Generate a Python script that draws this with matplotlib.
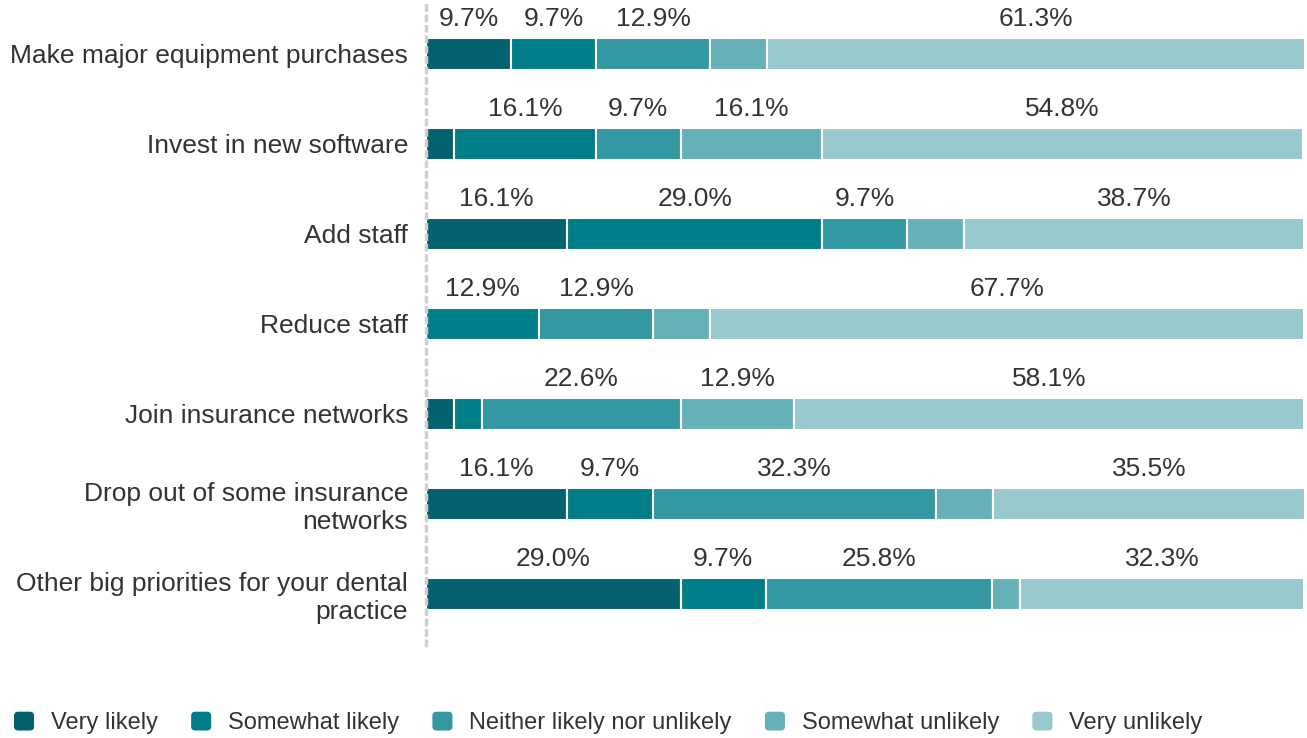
import numpy as np
import matplotlib.pyplot as plt
from matplotlib.patches import FancyBboxPatch, Patch
from matplotlib.legend_handler import HandlerPatch

plt.rcParams['font.family'] = ['Liberation Sans', 'DejaVu Sans']

categories = [
    "Make major equipment purchases",
    "Invest in new software",
    "Add staff",
    "Reduce staff",
    "Join insurance networks",
    "Drop out of some insurance\nnetworks",
    "Other big priorities for your dental\npractice",
]
series_names = ["Very likely", "Somewhat likely", "Neither likely nor unlikely",
                "Somewhat unlikely", "Very unlikely"]
very_likely = [9.7, 3.2, 16.1, 0.0, 3.2, 16.1, 29.0]
somewhat_likely = [9.7, 16.1, 29.0, 12.9, 3.2, 9.7, 9.7]
neither = [12.9, 9.7, 9.7, 12.9, 22.6, 32.3, 25.8]
somewhat_unlikely = [6.5, 16.1, 6.5, 6.5, 12.9, 6.5, 3.2]
very_unlikely = [61.3, 54.8, 38.7, 67.7, 58.1, 35.5, 32.3]
colors = ['#03626e', '#007e88', '#3398a1', '#66b1b7', '#99c9ce']

series = [very_likely, somewhat_likely, neither, somewhat_unlikely, very_unlikely]
txt = '#333333'

fig = plt.figure(figsize=(13.07, 7.38), dpi=100)
ax = fig.add_axes([0.326, 0.126, 0.9977 - 0.326, 0.874])

y = np.arange(len(categories))
left = np.zeros(len(categories))
for name, vals, c in zip(series_names, series, colors):
    vals = np.array(vals)
    ax.barh(y, vals, left=left, height=0.356, color=c, edgecolor='white',
            linewidth=1.5, label=name)
    for yi, l, v in zip(y, left, vals):
        if v >= 9:
            ax.text(l + v / 2, yi - 0.39, f"{v:.1f}%", ha='center', va='center',
                    fontsize=19, color=txt)
    left += vals

ax.set_xlim(0, 100)
ax.set_ylim(6.57, -0.6)
ax.set_yticks(y)
ax.set_yticklabels(categories, fontsize=19, color=txt, ha='right',
                   linespacing=1.2)
ax.tick_params(axis='y', length=0, pad=13)
ax.set_xticks([])
for s in ['top', 'right', 'bottom']:
    ax.spines[s].set_visible(False)
ax.spines['left'].set_color('#d0d0d0')
ax.spines['left'].set_linewidth(2.5)
ax.spines['left'].set_linestyle((0, (1.2, 1.8)))


# rounded square legend keys
def rounded_key(legend, orig_handle, xdescent, ydescent, width, height, fontsize):
    return FancyBboxPatch((-xdescent, -ydescent), width, height,
                          boxstyle="round,pad=0,rounding_size=3")


handles = [Patch(facecolor=c, edgecolor='none') for c in colors]
fig.legend(handles, series_names, loc='center left',
           bbox_to_anchor=(14 / 1307, 1 - 723 / 738),
           ncol=5, frameon=False, fontsize=17, handletextpad=0.72,
           handlelength=0.85, handleheight=0.85, columnspacing=1.4,
           borderpad=0, borderaxespad=0, labelcolor=txt,
           handler_map={Patch: HandlerPatch(patch_func=rounded_key)})

plt.savefig("out.png", dpi=100)
